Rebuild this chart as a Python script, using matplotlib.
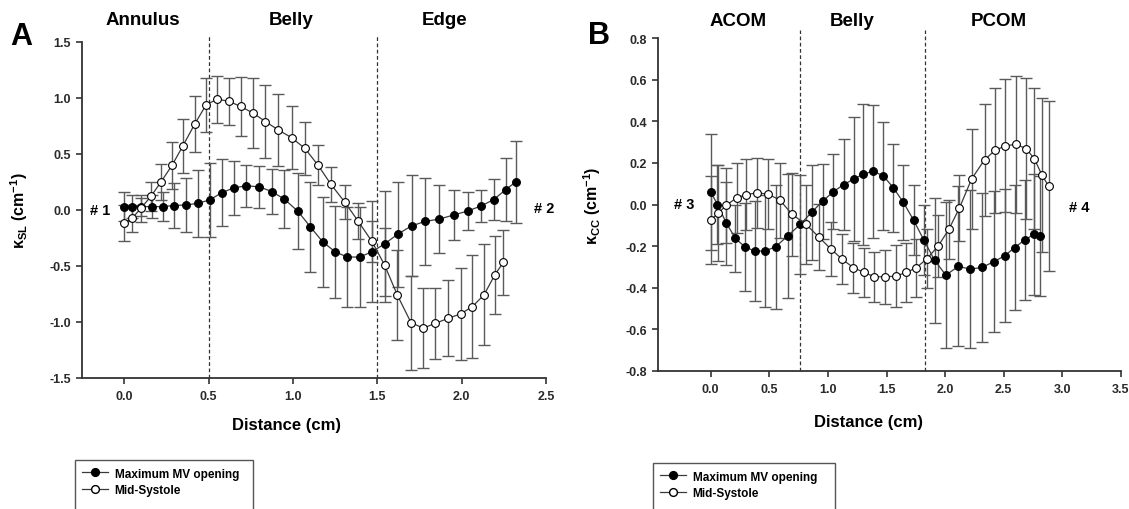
import matplotlib
matplotlib.use("Agg")
import matplotlib.pyplot as plt
from matplotlib.lines import Line2D
from matplotlib.patches import Rectangle
import numpy as np

plt.rcParams['font.family'] = ['Liberation Sans', 'DejaVu Sans']
plt.rcParams['font.weight'] = 'bold'
plt.rcParams['mathtext.fontset'] = 'custom'
plt.rcParams['mathtext.rm'] = 'Liberation Sans:bold'
plt.rcParams['mathtext.it'] = 'Liberation Sans:bold'
plt.rcParams['mathtext.bf'] = 'Liberation Sans:bold'

# ---------------- Panel A data ----------------
a_max_x = [0.0, 0.048, 0.10, 0.165, 0.228, 0.294, 0.367, 0.438, 0.506, 0.577, 0.649, 0.724, 0.80,
           0.875, 0.95, 1.03, 1.103, 1.177, 1.252, 1.323, 1.395, 1.47, 1.546, 1.621, 1.704, 1.784,
           1.867, 1.952, 2.036, 2.115, 2.19, 2.262, 2.32]
a_max_y = [0.03, 0.03, 0.03, 0.03, 0.03, 0.04, 0.045, 0.06, 0.09, 0.153, 0.198, 0.216, 0.207,
           0.165, 0.096, -0.012, -0.15, -0.285, -0.375, -0.42, -0.42, -0.372, -0.30, -0.216,
           -0.141, -0.102, -0.081, -0.045, -0.009, 0.036, 0.093, 0.183, 0.25]
a_max_err = [0.13, 0.10, 0.08, 0.10, 0.13, 0.20, 0.24, 0.30, 0.33, 0.30, 0.24, 0.19, 0.19, 0.20,
             0.26, 0.34, 0.40, 0.40, 0.41, 0.45, 0.45, 0.45, 0.47, 0.47, 0.45, 0.39, 0.30, 0.22,
             0.17, 0.14, 0.18, 0.28, 0.37]

a_mid_x = [0.0, 0.048, 0.099, 0.159, 0.218, 0.284, 0.347, 0.419, 0.486, 0.552, 0.621, 0.69, 0.764,
           0.837, 0.913, 0.992, 1.071, 1.149, 1.226, 1.308, 1.385, 1.468, 1.543, 1.619, 1.70,
           1.772, 1.845, 1.92, 1.994, 2.064, 2.133, 2.195, 2.248]
a_mid_y = [-0.117, -0.072, 0.015, 0.123, 0.25, 0.40, 0.57, 0.77, 0.94, 0.99, 0.97, 0.925, 0.865,
           0.79, 0.715, 0.646, 0.55, 0.40, 0.228, 0.069, -0.096, -0.28, -0.49, -0.76, -1.006,
           -1.054, -1.012, -0.967, -0.928, -0.862, -0.757, -0.583, -0.466]
a_mid_err = [0.16, 0.12, 0.12, 0.13, 0.165, 0.21, 0.24, 0.25, 0.24, 0.21, 0.21, 0.26, 0.31, 0.33,
             0.32, 0.28, 0.24, 0.18, 0.16, 0.15, 0.16, 0.18, 0.33, 0.40, 0.42, 0.36, 0.32, 0.34,
             0.41, 0.46, 0.45, 0.35, 0.29]

# ---------------- Panel B data ----------------
b_max_x = [0.0, 0.057, 0.134, 0.211, 0.29, 0.376, 0.46, 0.553, 0.655, 0.763, 0.86, 0.954, 1.045,
           1.134, 1.22, 1.30, 1.385, 1.473, 1.558, 1.644, 1.73, 1.818, 1.909, 2.006, 2.111, 2.216,
           2.313, 2.413, 2.507, 2.593, 2.678, 2.755, 2.81]
b_max_y = [0.061, 0.0, -0.091, -0.163, -0.204, -0.224, -0.224, -0.204, -0.152, -0.096, -0.038,
           0.016, 0.061, 0.096, 0.122, 0.146, 0.16, 0.138, 0.08, 0.01, -0.075, -0.171, -0.268,
           -0.34, -0.298, -0.311, -0.303, -0.276, -0.247, -0.207, -0.171, -0.144, -0.152]
b_max_err = [0.28, 0.19, 0.20, 0.16, 0.21, 0.24, 0.27, 0.30, 0.30, 0.24, 0.23, 0.18, 0.18, 0.22,
             0.30, 0.34, 0.32, 0.26, 0.21, 0.18, 0.17, 0.17, 0.30, 0.35, 0.385, 0.38, 0.36, 0.34,
             0.32, 0.30, 0.29, 0.29, 0.29]

b_mid_x = [0.0, 0.063, 0.134, 0.22, 0.305, 0.396, 0.49, 0.59, 0.695, 0.812, 0.923, 1.023, 1.122,
           1.217, 1.308, 1.396, 1.487, 1.578, 1.667, 1.755, 1.846, 1.94, 2.031, 2.122, 2.225,
           2.336, 2.427, 2.513, 2.604, 2.69, 2.76, 2.826, 2.883]
b_mid_y = [-0.074, -0.042, -0.003, 0.032, 0.048, 0.056, 0.05, 0.021, -0.048, -0.095, -0.157,
           -0.213, -0.264, -0.304, -0.327, -0.348, -0.348, -0.345, -0.327, -0.304, -0.26, -0.2,
           -0.12, -0.016, 0.122, 0.216, 0.261, 0.282, 0.29, 0.269, 0.221, 0.141, 0.088]
b_mid_err = [0.21, 0.23, 0.18, 0.17, 0.17, 0.17, 0.17, 0.18, 0.20, 0.19, 0.16, 0.13, 0.12, 0.12,
             0.12, 0.12, 0.13, 0.15, 0.14, 0.14, 0.14, 0.15, 0.14, 0.16, 0.24, 0.27, 0.30, 0.32,
             0.33, 0.34, 0.34, 0.37, 0.41]

series_labels = ["Maximum MV opening", "Mid-Systole"]
a_regions = ["Annulus", "Belly", "Edge"]
a_region_x = [0.11, 0.99, 1.90]
b_regions = ["ACOM", "Belly", "PCOM"]
b_region_x = [0.23, 1.21, 2.46]
a_dividers = [0.5, 1.5]
b_dividers = [0.76, 1.83]
a_xticks = [0.0, 0.5, 1.0, 1.5, 2.0, 2.5]
a_yticks = [-1.5, -1.0, -0.5, 0.0, 0.5, 1.0, 1.5]
b_xticks = [0.0, 0.5, 1.0, 1.5, 2.0, 2.5, 3.0, 3.5]
b_yticks = [-0.8, -0.6, -0.4, -0.2, 0.0, 0.2, 0.4, 0.6, 0.8]

W, H = 1129, 510
fig = plt.figure(figsize=(W / 100, H / 100), dpi=100)

axA = fig.add_axes([82 / W, 1 - 379 / H, 464 / W, 336 / H])
axB = fig.add_axes([658 / W, 1 - 371.7 / H, 463 / W, 332.4 / H])

line_c = '#3a3a3a'
err_c = '#5a5a5a'
tick_c = '#333333'
MS = 5.6


def draw(ax, x1, y1, e1, x2, y2, e2):
    ax.errorbar(x1, y1, yerr=e1, fmt='none', ecolor=err_c, elinewidth=1.0, capsize=4.5,
                capthick=1.0, zorder=2)
    ax.errorbar(x2, y2, yerr=e2, fmt='none', ecolor=err_c, elinewidth=1.0, capsize=4.5,
                capthick=1.0, zorder=2)
    ax.plot(x1, y1, '-', color=line_c, lw=0.9, marker='o', ms=MS, mfc='black', mec='black',
            mew=0.8, zorder=4)
    ax.plot(x2, y2, '-', color=line_c, lw=0.9, marker='o', ms=MS, mfc='white', mec='black',
            mew=0.8, zorder=4)


def style(ax, xlim, ylim, xticks, yticks):
    ax.set_xlim(*xlim)
    ax.set_ylim(*ylim)
    ax.set_xticks(xticks)
    ax.set_yticks(yticks)
    ax.set_xticklabels([f"{v:.1f}" for v in xticks])
    ax.set_yticklabels([f"{v:.1f}" for v in yticks])
    for s in ['top', 'right']:
        ax.spines[s].set_visible(False)
    for s in ['left', 'bottom']:
        ax.spines[s].set_linewidth(1.3)
        ax.spines[s].set_color(tick_c)
    ax.tick_params(direction='out', length=4, width=1.2, colors=tick_c, labelsize=9)
    ax.tick_params(axis='x', pad=5)
    ax.tick_params(axis='y', pad=4)
    for lab in ax.get_xticklabels() + ax.get_yticklabels():
        lab.set_fontweight('bold')
        lab.set_color('#2a2a2a')


draw(axA, a_max_x, a_max_y, a_max_err, a_mid_x, a_mid_y, a_mid_err)
draw(axB, b_max_x, b_max_y, b_max_err, b_mid_x, b_mid_y, b_mid_err)
style(axA, (-0.25, 2.5), (-1.5, 1.5), a_xticks, a_yticks)
style(axB, (-0.45, 3.5), (-0.8, 0.8), b_xticks, b_yticks)

for xv in a_dividers:
    axA.plot([xv, xv], [-1.5, 1.56], ls=(0, (3, 2)), color='#333333', lw=0.9, clip_on=False,
             zorder=1)
for xv in b_dividers:
    axB.plot([xv, xv], [-0.8, 0.84], ls=(0, (3, 2)), color='#333333', lw=0.9, clip_on=False,
             zorder=1)

for name, xv in zip(a_regions, a_region_x):
    axA.text(xv, 1.70, name, ha='center', va='center', fontsize=13.5, fontweight='bold',
             clip_on=False)
for name, xv in zip(b_regions, b_region_x):
    axB.text(xv, 0.885, name, ha='center', va='center', fontsize=13.5, fontweight='bold',
             clip_on=False)

axA.text(-0.14, 0.0, "# 1", ha='center', va='center', fontsize=10.5, fontweight='bold')
axA.text(2.49, 0.02, "# 2", ha='center', va='center', fontsize=10.5, fontweight='bold',
         clip_on=False)
axB.text(-0.23, 0.0, "# 3", ha='center', va='center', fontsize=10.5, fontweight='bold')
axB.text(3.14, -0.01, "# 4", ha='center', va='center', fontsize=10.5, fontweight='bold')

axA.set_xlabel("Distance (cm)", fontsize=12, fontweight='bold')
axA.xaxis.set_label_coords(0.44, -0.116)
axA.xaxis.label.set_va('top')
axB.set_xlabel("Distance (cm)", fontsize=12, fontweight='bold')
axB.xaxis.set_label_coords(0.455, -0.13)
axB.xaxis.label.set_va('top')

axA.set_ylabel("κ$_{SL}$ (cm$^{-1}$)", fontsize=11.5, fontweight='bold')
axA.yaxis.set_label_coords(-0.112, 0.5)
axB.set_ylabel("κ$_{CC}$ (cm$^{-1}$)", fontsize=11.5, fontweight='bold')
axB.yaxis.set_label_coords(-0.119, 0.5)

fig.text(10 / W, 1 - 45 / H, "A", fontsize=22, fontweight='bold', va='baseline')
fig.text(588 / W, 1 - 44 / H, "B", fontsize=22, fontweight='bold', va='baseline')

handles = [Line2D([], [], color=line_c, lw=0.9, marker='o', ms=MS, mfc='black', mec='black'),
           Line2D([], [], color=line_c, lw=0.9, marker='o', ms=MS, mfc='white', mec='black')]

for (lx, rx, top) in [(75, 253, 461), (653, 835, 464)]:
    fig.patches.append(Rectangle((lx / W, -0.02), (rx - lx) / W, (H - top) / H + 0.02,
                                 transform=fig.transFigure, fill=False, ec='#555555', lw=1.0))
    leg = fig.legend(handles, series_labels, loc='upper left',
                     bbox_to_anchor=((lx + 3) / W, 1 - (top + 4) / H), frameon=False,
                     fontsize=8.5, handlelength=2.2, handletextpad=0.6, labelspacing=0.35,
                     borderpad=0.3, borderaxespad=0)
    for t in leg.get_texts():
        t.set_fontweight('bold')

fig.savefig("out.png", dpi=100)
